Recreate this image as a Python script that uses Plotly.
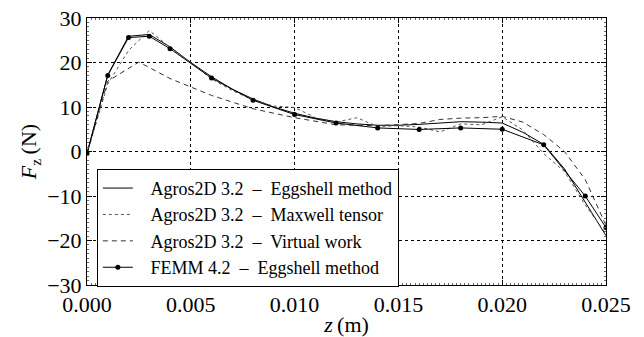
import plotly.graph_objects as go

# Agros2D 3.2 - Eggshell method
z_agros = [0.000, 0.001, 0.002, 0.003, 0.004, 0.005, 0.006, 0.007, 0.008, 0.009,
           0.010, 0.011, 0.012, 0.013, 0.014, 0.015, 0.016, 0.017, 0.018, 0.019,
           0.020, 0.021, 0.022, 0.023, 0.024, 0.025]
f_eggshell = [-0.5, 17.2, 25.9, 26.3, 23.5, 20.0, 16.8, 14.0, 11.8, 10.0,
              8.6, 7.5, 6.7, 6.2, 5.9, 5.9, 6.1, 6.4, 6.7, 6.6,
              6.4, 4.3, 1.6, -3.9, -11.4, -18.9]

# Agros2D 3.2 - Maxwell tensor
f_maxwell = [-0.5, 15.2, 22.7, 27.2, 23.4, 20.0, 16.3, 13.7, 11.6, 10.2,
             9.9, 7.6, 6.6, 7.6, 5.6, 5.8, 5.5, 4.4, 6.2, 6.0,
             7.8, 4.8, -0.5, -4.5, -12.0, -18.5]

# Agros2D 3.2 - Virtual work
z_virtual = [0.000, 0.001, 0.0025, 0.004, 0.006, 0.008, 0.010, 0.012, 0.014,
             0.016, 0.017, 0.018, 0.019, 0.020, 0.021, 0.022, 0.023, 0.024, 0.025]
f_virtual = [-0.5, 15.8, 20.1, 16.4, 12.6, 9.6, 7.6, 6.0, 5.8,
             6.3, 7.2, 7.5, 7.6, 7.9, 6.6, 3.8, 0.0, -6.3, -16.6]

# FEMM 4.2 - Eggshell method
z_femm = [0.000, 0.001, 0.002, 0.003, 0.004, 0.006, 0.008, 0.010, 0.012, 0.014,
          0.016, 0.018, 0.020, 0.022, 0.024, 0.025]
f_femm = [-0.4, 17.1, 25.6, 25.9, 23.1, 16.5, 11.5, 8.3, 6.4, 5.3,
          4.95, 5.3, 5.0, 1.5, -10.0, -17.1]

x_ticks = [0.000, 0.005, 0.010, 0.015, 0.020, 0.025]
x_tick_text = ["0.000", "0.005", "0.010", "0.015", "0.020", "0.025"]
y_ticks = [-30, -20, -10, 0, 10, 20, 30]
y_tick_text = ["\u221230", "\u221220", "\u221210", "0", "10", "20", "30"]

names = ["\u2002\u2009Agros2D 3.2  \u2013  Eggshell method",
         "\u2002\u2009Agros2D 3.2  \u2013  Maxwell tensor",
         "\u2002\u2009Agros2D 3.2  \u2013  Virtual work",
         "\u2002\u2009FEMM 4.2  \u2013  Eggshell method"]

fig = go.Figure()
fig.add_trace(go.Scatter(x=z_agros, y=f_eggshell, mode="lines", name=names[0],
                         line=dict(color="black", width=1)))
fig.add_trace(go.Scatter(x=z_agros, y=f_maxwell, mode="lines", name=names[1],
                         line=dict(color="#555555", width=1, dash="dot")))
fig.add_trace(go.Scatter(x=z_virtual, y=f_virtual, mode="lines", name=names[2],
                         line=dict(color="#333333", width=1, dash="5px,4px")))
fig.add_trace(go.Scatter(x=z_femm, y=f_femm, mode="lines+markers", name=names[3],
                         line=dict(color="black", width=1),
                         marker=dict(color="black", size=5)))

font_family = "Liberation Serif"

fig.update_layout(
    width=644, height=337,
    margin=dict(l=87, r=38, t=18, b=52),
    paper_bgcolor="white", plot_bgcolor="white",
    font=dict(family=font_family, color="black", size=22),
    showlegend=True,
    legend=dict(x=0.019, y=0.435, xanchor="left", yanchor="top",
                bordercolor="black", borderwidth=1, bgcolor="white",
                font=dict(family=font_family, size=18, color="black"),
                tracegroupgap=0, itemwidth=30),
)

fig.update_xaxes(
    range=[0, 0.025], tickmode="array", tickvals=x_ticks, ticktext=x_tick_text,
    showline=True, linecolor="black", linewidth=1, mirror="allticks",
    ticks="inside", ticklen=5, tickcolor="black",
    showgrid=True, gridcolor="black", griddash="dot", gridwidth=0.7,
    zeroline=False, automargin=False,
    minor=dict(ticks="inside", ticklen=2, dtick=0.0002, tickcolor="#666666", showgrid=False),
    title=dict(text="<i>z</i>\u2009(m)", font=dict(size=22), standoff=0),
    tickfont=dict(size=22),
)
fig.update_yaxes(
    range=[-30, 30], tickmode="array", tickvals=y_ticks, ticktext=y_tick_text,
    showline=True, linecolor="black", linewidth=1, mirror="allticks",
    ticks="inside", ticklen=5, tickcolor="black",
    showgrid=True, gridcolor="black", griddash="dot", gridwidth=0.7,
    zeroline=False, automargin=False,
    minor=dict(ticks="inside", ticklen=2, dtick=1, tickcolor="#666666", showgrid=False),
    title=dict(text="<i>F</i><sub>z</sub>\u2009(N)", font=dict(size=22), standoff=4),
    tickfont=dict(size=22),
)

fig.write_html("out.html",
               config={"displayModeBar": False},
               post_script=["document.body.style.margin='0';document.body.style.padding='0';"])
